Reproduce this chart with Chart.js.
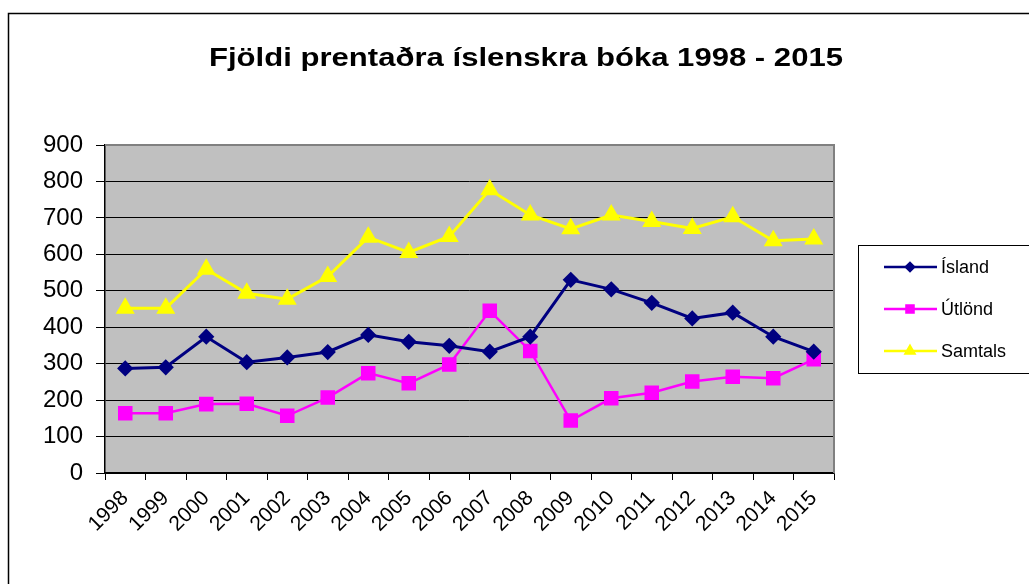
<!DOCTYPE html>
<html>
<head>
<meta charset="utf-8">
<style>
html,body{margin:0;padding:0;background:#fff;}
#wrap{position:relative;width:1029px;height:584px;overflow:hidden;}
canvas{display:block;}
</style>
<script src="https://cdn.jsdelivr.net/npm/chart.js@4.4.1/dist/chart.umd.min.js"></script>
</head>
<body>
<div id="wrap"><canvas id="c" width="1029" height="584"></canvas></div>
<script>
const titleText = 'Fjöldi prentaðra íslenskra bóka 1998 - 2015';
const years = ['1998','1999','2000','2001','2002','2003','2004','2005','2006','2007','2008','2009','2010','2011','2012','2013','2014','2015'];
const island  = [287, 290, 374, 304, 317, 332, 379, 360, 349, 333, 374, 530, 504, 467, 424, 440, 374, 333];
const utlond  = [164, 164, 189, 190, 157, 207, 274, 246, 298, 445, 335, 144, 205, 220, 251, 264, 260, 312];
const samtals = [452, 452, 559, 493, 477, 539, 647, 605, 649, 777, 708, 670, 708, 690, 671, 703, 637, 642];
const yTicks = [0, 100, 200, 300, 400, 500, 600, 700, 800, 900];
const seriesNames = ['Ísland', 'Útlönd', 'Samtals'];

const FONT = "'Liberation Sans', Arial, sans-serif";

const framePlugin = {
  id: 'frame',
  beforeDraw(chart) {
    const ctx = chart.ctx;
    const a = chart.chartArea;
    ctx.save();
    // outer frame
    ctx.strokeStyle = '#000';
    ctx.lineWidth = 1.5;
    ctx.strokeRect(8.5, 13.5, 1200, 1000);
    // plot background
    ctx.fillStyle = '#C0C0C0';
    ctx.fillRect(a.left, a.top, a.right - a.left, a.bottom - a.top);
    // title (horizontally stretched like the reference)
    ctx.fillStyle = '#000';
    ctx.font = "bold 25px " + FONT;
    const w = ctx.measureText(titleText).width;
    const sx = 634 / w;
    ctx.translate(526, 66);
    ctx.scale(sx, 1);
    ctx.textAlign = 'center';
    ctx.textBaseline = 'alphabetic';
    ctx.fillText(titleText, 0, 0);
    ctx.restore();
  },
  afterDatasetsDraw(chart) {
    const ctx = chart.ctx;
    const a = chart.chartArea;
    ctx.save();
    // gray border top/right of plot
    ctx.strokeStyle = '#808080';
    ctx.lineWidth = 2;
    ctx.beginPath();
    ctx.moveTo(a.left, a.top);
    ctx.lineTo(a.right, a.top);
    ctx.lineTo(a.right, a.bottom);
    ctx.stroke();
    // legend box
    ctx.strokeStyle = '#000';
    ctx.lineWidth = 1;
    ctx.strokeRect(858.5, 245.5, 300, 128);
    const ys = [267, 309, 351];
    chart.data.datasets.forEach((ds, i) => {
      const y = ys[i];
      ctx.strokeStyle = ds.borderColor;
      ctx.lineWidth = 2.5;
      ctx.beginPath();
      ctx.moveTo(884, y);
      ctx.lineTo(937, y);
      ctx.stroke();
      Chart.helpers.drawPoint(ctx, {pointStyle: ds.pointStyle, radius: ds.legendRadius, borderWidth: 1}, 910, y);
      ctx.fillStyle = ds.borderColor;
      ctx.fill();
      ctx.fillStyle = '#000';
      ctx.font = "18px " + FONT;
      ctx.textAlign = 'left';
      ctx.textBaseline = 'middle';
      ctx.fillText(ds.label, 941, y + 1);
    });
    ctx.restore();
  }
};

new Chart(document.getElementById('c'), {
  type: 'line',
  data: {
    labels: years,
    datasets: [
      { label: seriesNames[0], data: island, borderColor: '#000080', backgroundColor: '#000080',
        borderWidth: 3, pointStyle: 'rectRot', pointRadius: 6, pointHoverRadius: 6, legendRadius: 4 },
      { label: seriesNames[1], data: utlond, borderColor: '#FF00FF', backgroundColor: '#FF00FF',
        borderWidth: 2.5, pointStyle: 'rect', pointRadius: 8.5, pointHoverRadius: 8.5, legendRadius: 5 },
      { label: seriesNames[2], data: samtals, borderColor: '#FFFF00', backgroundColor: '#FFFF00',
        borderWidth: 3, pointStyle: 'triangle', pointRadius: 8, pointHoverRadius: 8, legendRadius: 5 }
    ]
  },
  options: {
    responsive: false,
    animation: false,
    events: [],
    layout: { padding: { top: 145, right: 195, left: 0, bottom: 0 } },
    plugins: { legend: { display: false }, title: { display: false }, tooltip: { enabled: false } },
    scales: {
      x: {
        offset: true,
        grid: { offset: true, drawOnChartArea: false, drawTicks: true, tickLength: 7, color: '#000', lineWidth: 1 },
        border: { display: true, color: '#000', width: 1.5 },
        ticks: { color: '#000', font: { family: FONT, size: 21 }, minRotation: 45, maxRotation: 45, padding: 6, autoSkip: false },
        afterFit(scale) { scale.height = 111; }
      },
      y: {
        min: 0, max: 900,
        afterBuildTicks(scale) { scale.ticks = yTicks.map(v => ({ value: v })); },
        grid: { color: '#000', lineWidth: 1, tickLength: 9, drawTicks: true },
        border: { display: true, color: '#000', width: 1.5 },
        ticks: { color: '#000', font: { family: FONT, size: 24 }, padding: 13 },
        afterFit(scale) { scale.width = 105; }
      }
    }
  },
  plugins: [framePlugin]
});
</script>
</body>
</html>
